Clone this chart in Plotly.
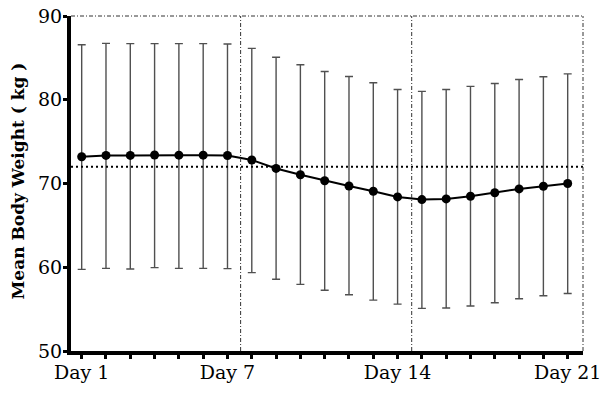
import plotly.graph_objects as go

days = list(range(1, 22))
mean_weight = [73.2, 73.35, 73.35, 73.4, 73.38, 73.38, 73.34, 72.8, 71.8, 71.04, 70.33, 69.7,
               69.07, 68.4, 68.08, 68.16, 68.48, 68.9, 69.35, 69.67, 70.0]
upper_bound = [86.56, 86.73, 86.7, 86.7, 86.7, 86.7, 86.66, 86.14, 85.07, 84.18, 83.37, 82.78,
               82.03, 81.23, 81.0, 81.23, 81.6, 81.94, 82.42, 82.74, 83.09]
lower_bound = [59.75, 59.87, 59.79, 59.95, 59.87, 59.87, 59.83, 59.36, 58.57, 57.95, 57.26, 56.71,
               56.08, 55.6, 55.09, 55.13, 55.37, 55.76, 56.23, 56.59, 56.87]
tick_labels = ["Day 1" if d == 1 else "Day 7" if d == 7 else "Day 14" if d == 14
               else "Day 21" if d == 21 else "" for d in days]
y_ticks = [50, 60, 70, 80, 90]
baseline_weight = 72.0
period_dividers = [7.54, 14.58]
x_range = [0.56, 21.63]
y_range = [50, 90]
y_title = "Mean Body Weight ( kg )"

err_plus = [u - m for u, m in zip(upper_bound, mean_weight)]
err_minus = [m - l for m, l in zip(mean_weight, lower_bound)]

fig = go.Figure()
fig.add_trace(go.Scatter(
    x=days, y=mean_weight, mode="lines+markers",
    line=dict(color="black", width=2),
    marker=dict(color="black", size=9),
    error_y=dict(type="data", symmetric=False, array=err_plus, arrayminus=err_minus,
                 color="#505050", thickness=1.4, width=4),
    showlegend=False,
))

serif = "DejaVu Serif"
dashdot = "4px,2px,1px,2px"
shapes = []
shapes.append(dict(type="line", xref="paper", x0=0, x1=1, yref="y", y0=baseline_weight, y1=baseline_weight,
                   line=dict(color="black", width=2, dash="2px,3px"), layer="above"))
for xd in period_dividers:
    shapes.append(dict(type="line", xref="x", x0=xd, x1=xd, yref="paper", y0=0, y1=1,
                       line=dict(color="#333", width=1, dash=dashdot)))
shapes.append(dict(type="line", xref="paper", x0=0, x1=1, yref="paper", y0=1, y1=1,
                   line=dict(color="#333", width=1, dash=dashdot)))
shapes.append(dict(type="line", xref="paper", x0=1, x1=1, yref="paper", y0=0, y1=1,
                   line=dict(color="#333", width=1, dash=dashdot)))

fig.update_layout(
    width=600, height=398,
    margin=dict(l=71, r=17, t=16, b=47),
    paper_bgcolor="white", plot_bgcolor="white",
    shapes=shapes,
    font=dict(family=serif, color="black", size=19),
    xaxis=dict(range=x_range, tickvals=days, ticktext=tick_labels, showgrid=False, zeroline=False,
               showline=True, linecolor="black", linewidth=4, ticks="outside", ticklen=4,
               tickwidth=3, tickcolor="black", tickfont=dict(family=serif, size=19),
               automargin=False, ticklabeloverflow="allow", ticklabelstandoff=-3),
    yaxis=dict(range=y_range, tickvals=y_ticks, showgrid=False, zeroline=False,
               showline=True, linecolor="black", linewidth=4, ticks="outside", ticklen=4,
               tickwidth=3, tickcolor="black", tickfont=dict(family=serif, size=19),
               automargin=False, ticklabeloverflow="allow", ticklabelstandoff=-3),
    annotations=[dict(text="<b>" + y_title + "</b>", xref="paper", yref="paper", x=0, y=0.5,
                      xanchor="center", yanchor="middle", xshift=-54, yshift=2, textangle=-90,
                      showarrow=False, font=dict(family=serif, size=17, color="black"))],
)

fig.write_html("out.html", config={"displayModeBar": False},
               post_script="document.body.style.margin='0';")
